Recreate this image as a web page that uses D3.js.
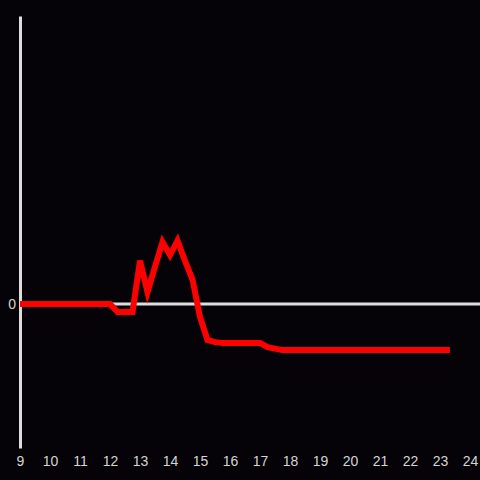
<!DOCTYPE html>
<html>
<head>
<meta charset="utf-8">
<script src="https://cdn.jsdelivr.net/npm/d3@7"></script>
<style>
  html, body { margin: 0; padding: 0; background: #050307; }
  svg { display: block; }
</style>
</head>
<body>
<div id="chart-area"></div>
<script>
// hours of the day (x values) and measured values
const hours = [9, 9.5, 10, 10.5, 11, 11.5, 12, 12.25, 12.5, 12.75, 13, 13.25, 13.5, 13.75, 14, 14.25, 14.5, 14.75, 15, 15.25, 15.5, 15.75, 16, 16.5, 17, 17.25, 17.5, 17.75, 18, 19, 20, 21, 22, 23, 23.33];
const values = [0, 0, 0, 0, 0, 0, 0, -0.055, -0.055, -0.055, 0.30, 0.083, 0.26, 0.43, 0.34, 0.44, 0.30, 0.17, -0.09, -0.25, -0.265, -0.27, -0.27, -0.27, -0.27, -0.30, -0.31, -0.32, -0.32, -0.32, -0.32, -0.32, -0.32, -0.32, -0.32];
const xTicks = [9, 10, 11, 12, 13, 14, 15, 16, 17, 18, 19, 20, 21, 22, 23, 24];
const yTicks = [0];

const width = 480;
const height = 480;

const svg = d3.select('#chart-area').append('svg')
    .attr('width', width)
    .attr('height', height)

svg.append('rect')
    .attr('width', width)
    .attr('height', height)
    .attr('fill', '#050307')

const x = d3.scaleLinear().domain([9, 24]).range([20, 470]);
const y = d3.scaleLinear().domain([-1, 2]).range([448, 16]);

const axisColor = '#dddddd';
const labelColor = '#d4d4d4';

// x axis labels only
const xAxis = svg.append('g')
    .attr('transform', `translate(0, ${448})`)
    .call(d3.axisBottom(x).tickValues(xTicks).tickSize(0).tickPadding(8).tickFormat(d3.format('d')))
xAxis.select('.domain').remove()
xAxis.selectAll('text')
    .attr('fill', labelColor)
    .attr('font-family', 'Liberation Sans, Arial, sans-serif')
    .attr('font-size', '14px')

// y axis: vertical line and the 0 label
const yAxis = svg.append('g')
    .attr('transform', `translate(${x(9)}, 0)`)
    .call(d3.axisLeft(y).tickValues(yTicks).tickSize(0).tickSizeOuter(0).tickPadding(4).tickFormat(d3.format('d')))
yAxis.select('.domain')
    .attr('stroke', axisColor)
    .attr('stroke-width', 3)
yAxis.selectAll('text')
    .attr('fill', labelColor)
    .attr('font-family', 'Liberation Sans, Arial, sans-serif')
    .attr('font-size', '14px')

// zero line
svg.append('line')
    .attr('x1', x(9))
    .attr('x2', width)
    .attr('y1', y(0))
    .attr('y2', y(0))
    .attr('stroke', axisColor)
    .attr('stroke-width', 3)

const data = hours.map((h, i) => ({ h: h, v: values[i] }));

const line = d3.line()
    .x(d => x(d.h))
    .y(d => y(d.v));

svg.append('path')
    .datum(data)
    .attr('d', line)
    .attr('fill', 'none')
    .attr('stroke', '#ff0000')
    .attr('stroke-width', 6)
    .attr('stroke-linejoin', 'miter')
</script>
</body>
</html>
